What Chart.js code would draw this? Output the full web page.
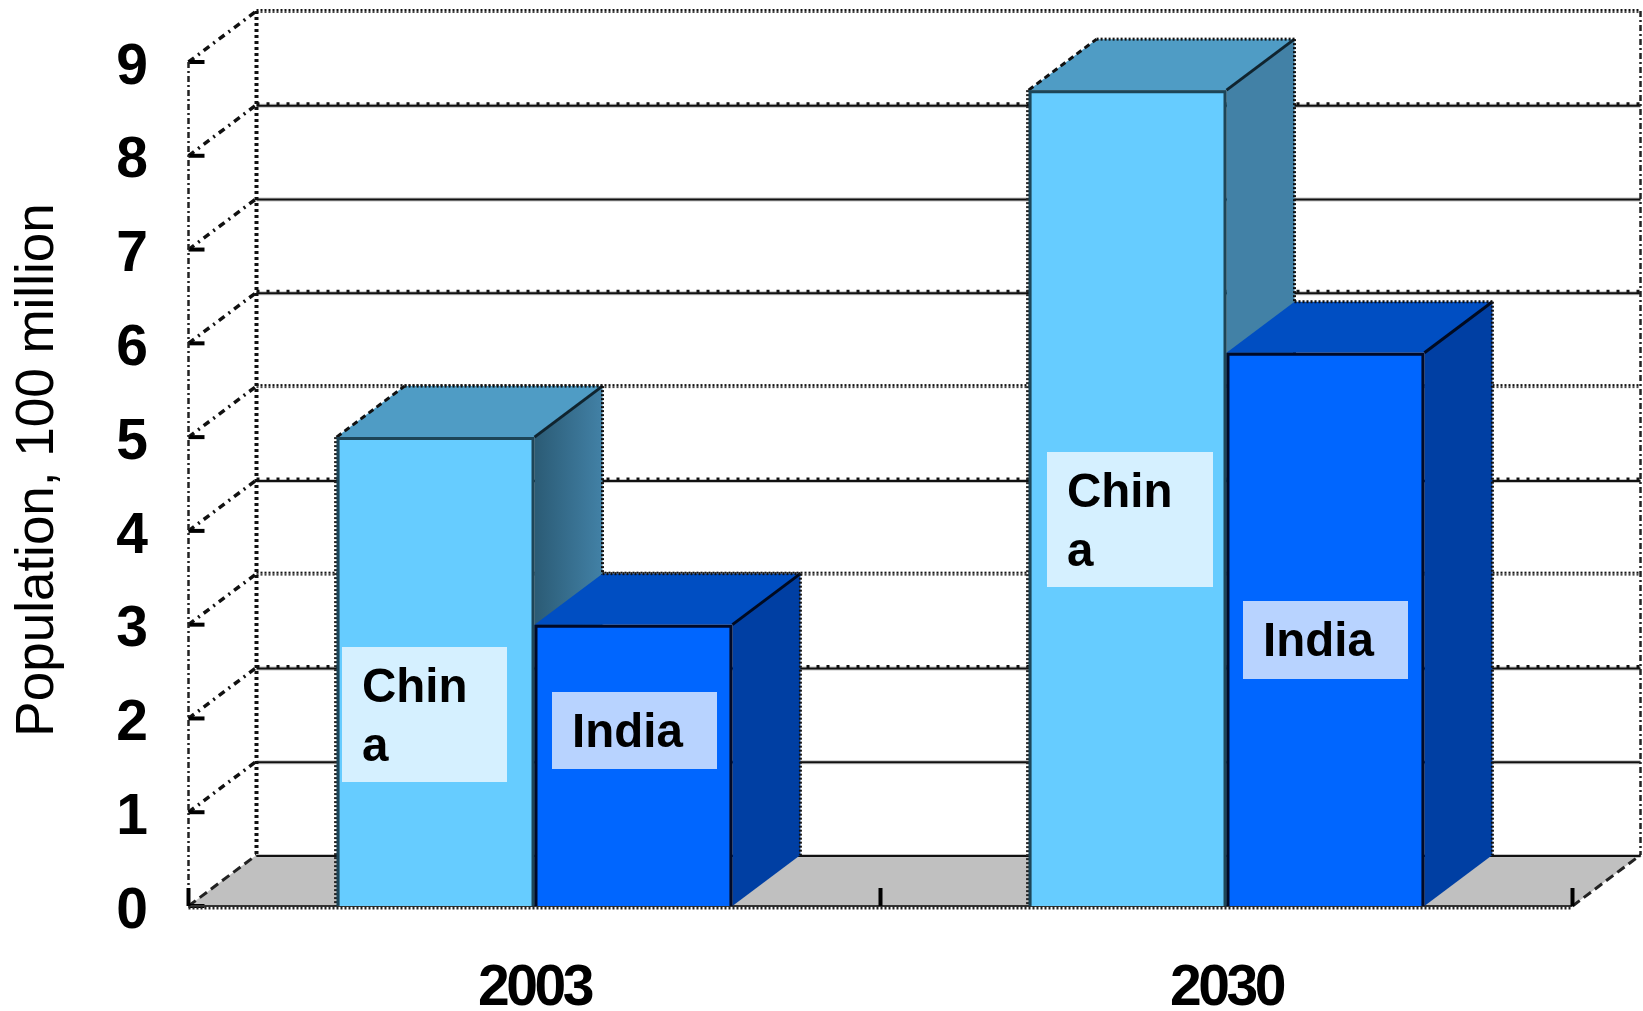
<!DOCTYPE html>
<html>
<head>
<meta charset="utf-8">
<title>Population</title>
<script src="https://cdn.jsdelivr.net/npm/chart.js@4"></script>
<style>
    html, body { margin: 0; padding: 0; background: #fff; }
    #wrap { width: 1643px; height: 1011px; }
</style>
</head>
<body>
<div id="wrap"><canvas id="popChart" width="1643" height="1011"></canvas></div>
<script>
const years = ['2003', '2030'];
const chinaValues = [5.0, 8.7];
const indiaValues = [3.0, 5.9];
const yTickLabels = ['0', '1', '2', '3', '4', '5', '6', '7', '8', '9'];
const axisTitle = 'Population, 100 million';
const chinaLabel = ['Chin', 'a'];
const indiaLabel = ['India'];

// 3D look, same offset for the walls and the bars
const DEPTH_X = 68;
const DEPTH_Y = 51;

// the back wall lines do not all look alike in the picture
const gridLook = ['solid', 'solid', 'ticked', 'checker', 'ticked', 'checker', 'ticked', 'solid', 'ticked', 'checker'];

const faceColors = [
    { top: '#4F9CC5', side: '#4281A6', sideDark: '#2B5B75', edge: '#10242f' },
    { top: '#004EC2', side: '#003FA3', sideDark: '#003FA3', edge: '#000a20' }
];

function line(ctx, x1, y1, x2, y2, width, color, dash) {
    ctx.save();
    ctx.beginPath();
    ctx.setLineDash(dash || []);
    ctx.lineWidth = width;
    ctx.strokeStyle = color;
    ctx.moveTo(x1, y1);
    ctx.lineTo(x2, y2);
    ctx.stroke();
    ctx.restore();
}

function poly(ctx, pts, fill) {
    ctx.beginPath();
    pts.forEach((p, i) => i ? ctx.lineTo(p[0], p[1]) : ctx.moveTo(p[0], p[1]));
    ctx.closePath();
    ctx.fillStyle = fill;
    ctx.fill();
}

const wallsPlugin = {
    id: 'walls',
    beforeDraw(chart) {
        // tick digits are a bit narrower in the reference
        chart.ctx.letterSpacing = '-3.5px';
    },
    beforeDatasetsDraw(chart) {
        const { ctx, chartArea: a, scales: { y } } = chart;
        const base = y.getPixelForValue(0);
        ctx.letterSpacing = '0px';
        ctx.save();

        // floor
        poly(ctx, [[a.left, base], [a.left + DEPTH_X, base - DEPTH_Y], [a.right + DEPTH_X, base - DEPTH_Y], [a.right, base]], '#C0C0C0');

        // back wall lines and the slanted ones on the left wall
        yTickLabels.forEach((t, i) => {
            const py = y.getPixelForValue(i);
            const by = py - DEPTH_Y;
            const x1 = a.left + DEPTH_X, x2 = a.right + DEPTH_X;
            if (gridLook[i] === 'checker') {
                line(ctx, x1, by - 1, x2, by - 1, 2, '#111', [2, 2]);
                line(ctx, x1, by + 1, x2, by + 1, 2, '#444', [2, 2]);
            } else {
                line(ctx, x1, by + 1, x2, by + 1, 4, '#c4c4c4');
                line(ctx, x1, by + 1, x2, by + 1, 2, '#111');
                if (gridLook[i] === 'ticked') line(ctx, x1, by - 1, x2, by - 1, 3, '#111', [3, 7]);
            }
            if (i > 0) {
                line(ctx, a.left, py, x1, by, 3.5, '#111', [7, 5, 2, 5]);
            } else {
                line(ctx, a.left, py, x1, by, 3, '#222', [9, 5]);
                line(ctx, a.right, py, x2, by, 3, '#222', [9, 5]);
            }
            line(ctx, a.left, py, a.left + 16, py, 4, '#000');
        });

        // verticals: front left, back left, back right
        line(ctx, a.left, y.getPixelForValue(9), a.left, base, 2.5, '#222', [6, 3, 2, 3]);
        line(ctx, a.left + DEPTH_X, y.getPixelForValue(9) - DEPTH_Y, a.left + DEPTH_X, base - DEPTH_Y, 4, '#111', [3, 3]);
        line(ctx, a.right + DEPTH_X, y.getPixelForValue(9) - DEPTH_Y, a.right + DEPTH_X, base - DEPTH_Y, 2.5, '#222', [6, 3, 2, 3]);

        // floor front edge and category ticks
        line(ctx, a.left, base, a.right, base, 2, '#333');
        line(ctx, a.left, base + 2, a.right, base + 2, 3, '#222', [2, 2]);
        const step = (a.right - a.left) / years.length;
        [0, 1, 2].forEach(i => line(ctx, a.left + step * i, base, a.left + step * i, base - 18, 4, '#000'));

        // sides and tops of the bars, left to right so the later ones cover the earlier
        years.forEach((yr, c) => {
            chart.data.datasets.forEach((ds, d) => {
                const bar = chart.getDatasetMeta(d).data[c];
                const col = faceColors[d];
                const l = bar.x - bar.width / 2, r = bar.x + bar.width / 2, t = bar.y;
                let side = col.side;
                if (c === 0 && d === 0) {
                    side = ctx.createLinearGradient(r, 0, r + DEPTH_X, 0);
                    side.addColorStop(0, col.sideDark);
                    side.addColorStop(1, col.side);
                }
                poly(ctx, [[r, t], [r + DEPTH_X, t - DEPTH_Y], [r + DEPTH_X, base - DEPTH_Y], [r, base]], side);
                poly(ctx, [[l, t], [l + DEPTH_X, t - DEPTH_Y], [r + DEPTH_X, t - DEPTH_Y], [r, t]], col.top);
                line(ctx, r, t, r + DEPTH_X, t - DEPTH_Y, 3, col.edge);
                // dotted outer outline
                line(ctx, l + DEPTH_X, t - DEPTH_Y, r + DEPTH_X, t - DEPTH_Y, 3, '#111', [2, 2]);
                line(ctx, r + DEPTH_X, t - DEPTH_Y, r + DEPTH_X, base - DEPTH_Y, 3, '#111', [2, 2]);
                if (d === 0) {
                    line(ctx, l, t, l + DEPTH_X, t - DEPTH_Y, 3, '#111', [6, 4]);
                    line(ctx, l - 1, t, l - 1, base, 3, '#222', [2, 2]);
                }
                // fill under the front so no seam shows between border and body
                poly(ctx, [[l, t], [r, t], [r, base], [l, base]], ds.borderColor);
            });
        });
        ctx.restore();
    },
    afterDraw(chart) {
        const { ctx } = chart;
        const boxes = chart.options.plugins.walls.boxes;
        ctx.save();
        chart.data.datasets.forEach((ds, d) => {
            years.forEach((yr, c) => {
                const b = boxes[d][c];
                ctx.fillStyle = b.fill;
                ctx.fillRect(b.x, b.y, b.w, b.h);
                ctx.fillStyle = '#000';
                ctx.font = 'bold 47.5px "Liberation Sans"';
                ctx.textAlign = 'left';
                ctx.textBaseline = 'middle';
                ds.boxText.forEach((txt, i) => ctx.fillText(txt, b.x + 20, b.y + 42 + i * 59));
            });
        });
        // axis title sits off centre, so it is placed by hand
        ctx.translate(38, 470);
        ctx.rotate(-Math.PI / 2);
        ctx.font = '53px "Liberation Sans"';
        ctx.textAlign = 'center';
        ctx.textBaseline = 'middle';
        ctx.fillStyle = '#000';
        ctx.fillText(axisTitle, 0, 0);
        ctx.restore();
    }
};

const tickFont = { family: '"Liberation Sans"', size: 57, weight: 'bold' };

new Chart(document.getElementById('popChart').getContext('2d'), {
    type: 'bar',
    plugins: [wallsPlugin],
    data: {
        labels: years,
        datasets: [
            { label: 'China', data: chinaValues, boxText: chinaLabel, backgroundColor: '#66CCFF', borderColor: '#1d4558', borderWidth: 3 },
            { label: 'India', data: indiaValues, boxText: indiaLabel, backgroundColor: '#0066FF', borderColor: '#000a28', borderWidth: 3 }
        ]
    },
    options: {
        responsive: false,
        animation: false,
        layout: { padding: { top: 62, right: 70.5, left: 0, bottom: 0 } },
        datasets: { bar: { categoryPercentage: 0.572, barPercentage: 1 } },
        plugins: {
            legend: { display: false },
            tooltip: { enabled: false },
            walls: {
                boxes: [
                    [
                        { x: 342, y: 647, w: 165, h: 135, fill: '#D5F0FF' },
                        { x: 1047, y: 452, w: 166, h: 135, fill: '#D5F0FF' }
                    ],
                    [
                        { x: 552, y: 692, w: 165, h: 77, fill: '#B8D3FF' },
                        { x: 1243, y: 601, w: 165, h: 78, fill: '#B8D3FF' }
                    ]
                ]
            }
        },
        scales: {
            x: {
                afterFit: s => { s.height = 105; },
                grid: { display: false },
                border: { display: false },
                ticks: { color: '#000', font: tickFont, padding: 41, maxRotation: 0 }
            },
            y: {
                min: 0,
                max: 9,
                afterFit: s => { s.width = 188.5; s.paddingTop = 0; s.paddingBottom = 0; },
                grid: { display: false, drawTicks: false },
                border: { display: false },
                ticks: {
                    color: '#000',
                    font: tickFont,
                    padding: 44,
                    labelOffset: 6,
                    stepSize: 1,
                    callback: (v, i) => yTickLabels[i]
                }
            }
        }
    }
});
</script>
</body>
</html>
